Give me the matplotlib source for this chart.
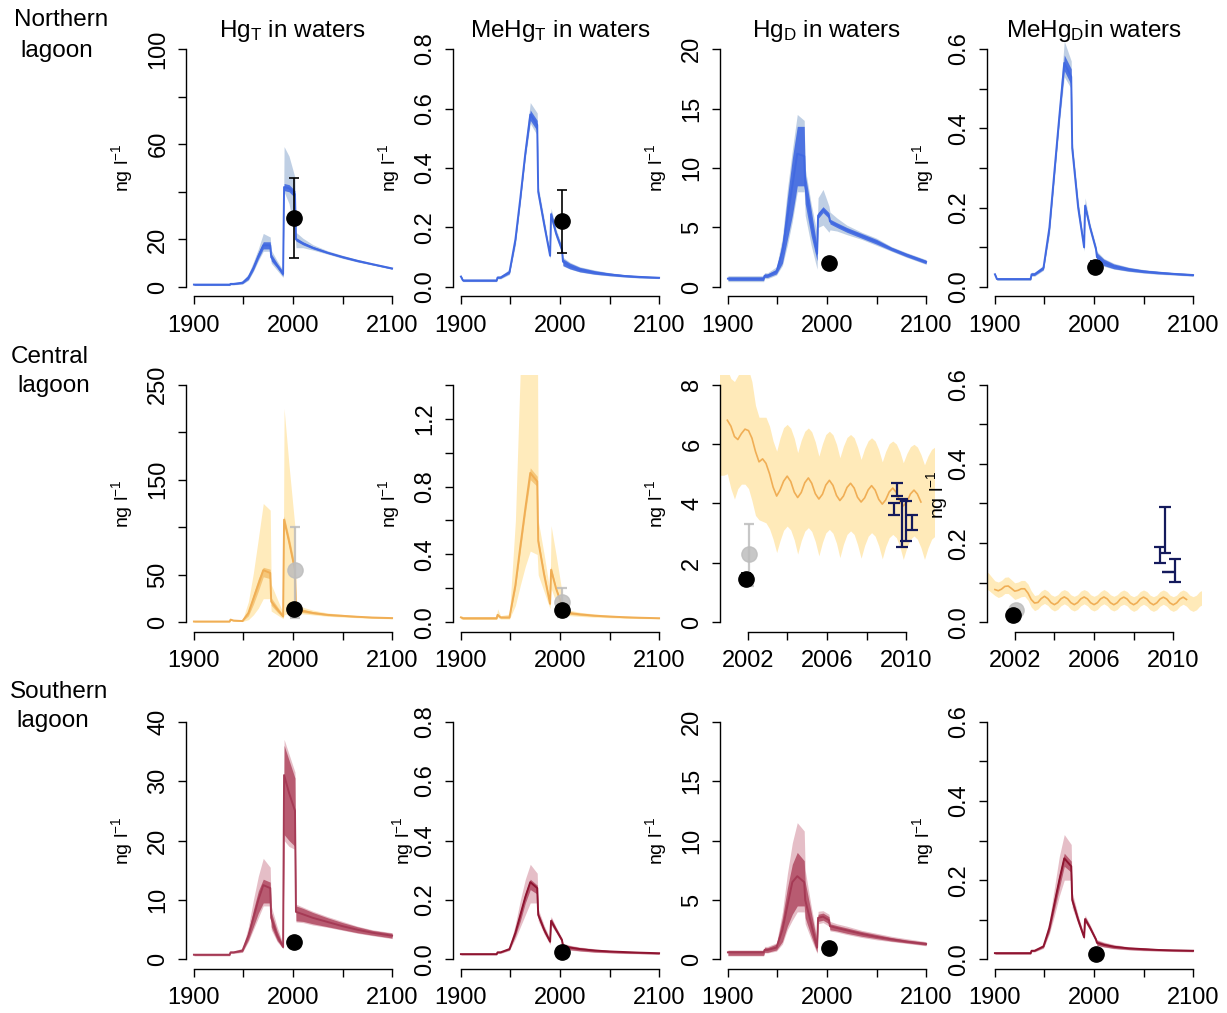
import numpy as np
import matplotlib
matplotlib.use("Agg")
import matplotlib.pyplot as plt

plt.rcParams['font.family'] = ['Liberation Sans', 'DejaVu Sans']
plt.rcParams['mathtext.fontset'] = 'custom'
plt.rcParams['mathtext.rm'] = 'Liberation Sans'
plt.rcParams['mathtext.it'] = 'Liberation Sans:italic'

# ---------------- data ----------------
YR = [1900, 1902, 1936, 1937, 1940, 1949, 1955, 1960, 1965, 1970, 1977, 1978, 1984,
      1990, 1991, 1996, 2002, 2003, 2010, 2020, 2035, 2050, 2065, 2080, 2100]

# northern lagoon
N_HGT_MED = [1.0, 1.0, 1.0, 1.3, 1.3, 1.8, 4.0, 8.0, 13.0, 17.5, 17.5, 12.5, 9.0, 5.5, 42.0, 41.5, 39.0, 20.0, 18.3, 16.5, 14.4, 12.6, 11.0, 9.6, 7.8]
N_HGT_IN_LO = [0.7, 0.7, 0.7, 1.0, 1.0, 1.4, 3.2, 7.0, 11.8, 16.0, 16.0, 11.0, 8.0, 4.5, 40.5, 40.0, 37.5, 19.3, 17.7, 16.0, 14.0, 12.2, 10.6, 9.3, 7.5]
N_HGT_IN_HI = [1.3, 1.3, 1.3, 1.6, 1.6, 2.2, 4.8, 9.2, 14.5, 19.0, 19.0, 14.0, 10.0, 6.5, 43.5, 43.0, 40.5, 20.8, 19.0, 17.0, 14.8, 13.0, 11.4, 9.9, 8.1]
N_HGT_OUT_LO = [0.6, 0.6, 0.6, 0.9, 0.9, 1.2, 2.8, 6.5, 11.0, 15.0, 15.0, 10.0, 7.0, 4.0, 40.0, 35.0, 22.0, 16.5, 16.5, 15.5, 13.8, 12.0, 10.5, 9.2, 7.4]
N_HGT_OUT_HI = [1.4, 1.4, 1.4, 1.7, 1.7, 2.5, 5.5, 10.5, 16.0, 22.5, 21.0, 15.5, 11.0, 7.0, 59.0, 55.0, 46.0, 23.0, 20.5, 17.8, 15.2, 13.3, 11.6, 10.1, 8.3]

N_MEHGT_MED = [0.035, 0.022, 0.022, 0.032, 0.032, 0.05, 0.16, 0.30, 0.45, 0.58, 0.545, 0.32, 0.21, 0.105, 0.245, 0.18, 0.125, 0.085, 0.07, 0.058, 0.048, 0.042, 0.037, 0.034, 0.031]
N_MEHGT_IN_LO = [0.03, 0.019, 0.019, 0.029, 0.029, 0.045, 0.15, 0.29, 0.44, 0.56, 0.525, 0.31, 0.20, 0.10, 0.235, 0.172, 0.118, 0.072, 0.061, 0.051, 0.043, 0.038, 0.034, 0.031, 0.029]
N_MEHGT_IN_HI = [0.04, 0.025, 0.025, 0.035, 0.035, 0.055, 0.17, 0.31, 0.46, 0.595, 0.56, 0.33, 0.22, 0.11, 0.255, 0.188, 0.132, 0.095, 0.08, 0.066, 0.055, 0.047, 0.041, 0.037, 0.034]
N_MEHGT_OUT_LO = [0.028, 0.018, 0.018, 0.027, 0.027, 0.042, 0.14, 0.28, 0.43, 0.55, 0.51, 0.30, 0.19, 0.095, 0.225, 0.165, 0.112, 0.07, 0.06, 0.05, 0.042, 0.037, 0.033, 0.030, 0.028]
N_MEHGT_OUT_HI = [0.042, 0.026, 0.026, 0.037, 0.037, 0.06, 0.18, 0.32, 0.48, 0.62, 0.585, 0.34, 0.23, 0.115, 0.265, 0.195, 0.14, 0.1, 0.083, 0.068, 0.057, 0.048, 0.042, 0.038, 0.035]

N_HGD_MED = [0.7, 0.7, 0.7, 0.95, 0.95, 1.3, 3.0, 5.8, 8.5, 11.2, 11.0, 8.5, 5.5, 2.8, 6.0, 6.5, 6.0, 5.5, 5.2, 4.8, 4.3, 3.8, 3.2, 2.7, 2.1]
N_HGD_IN_LO = [0.55, 0.55, 0.55, 0.8, 0.8, 1.1, 2.0, 4.0, 6.0, 8.5, 8.5, 7.0, 4.3, 2.2, 5.75, 6.25, 5.75, 5.3, 5.0, 4.6, 4.1, 3.6, 3.05, 2.55, 1.95]
N_HGD_IN_HI = [0.85, 0.85, 0.85, 1.1, 1.1, 1.5, 3.8, 7.5, 10.8, 13.5, 13.5, 9.5, 6.5, 3.4, 6.25, 6.75, 6.25, 5.7, 5.4, 5.0, 4.5, 4.0, 3.35, 2.85, 2.25]
N_HGD_OUT_LO = [0.45, 0.45, 0.45, 0.7, 0.7, 1.0, 1.8, 3.5, 5.5, 8.0, 8.0, 6.0, 3.5, 1.5, 5.0, 5.2, 4.6, 4.8, 4.7, 4.4, 4.0, 3.5, 3.0, 2.5, 1.9]
N_HGD_OUT_HI = [0.95, 0.95, 0.95, 1.2, 1.2, 1.7, 4.2, 8.2, 11.5, 14.5, 14.0, 10.0, 7.0, 4.5, 7.5, 8.2, 6.8, 6.3, 5.8, 5.2, 4.6, 4.1, 3.4, 2.9, 2.3]

N_MEHGD_MED = [0.032, 0.02, 0.02, 0.032, 0.032, 0.048, 0.15, 0.29, 0.43, 0.565, 0.53, 0.35, 0.20, 0.10, 0.205, 0.15, 0.095, 0.075, 0.062, 0.052, 0.044, 0.039, 0.036, 0.033, 0.030]
N_MEHGD_IN_LO = [0.029, 0.018, 0.018, 0.029, 0.029, 0.044, 0.14, 0.28, 0.42, 0.545, 0.51, 0.34, 0.19, 0.095, 0.198, 0.145, 0.09, 0.065, 0.054, 0.046, 0.04, 0.036, 0.033, 0.031, 0.028]
N_MEHGD_IN_HI = [0.035, 0.022, 0.022, 0.035, 0.035, 0.052, 0.16, 0.30, 0.44, 0.585, 0.55, 0.36, 0.21, 0.105, 0.212, 0.155, 0.1, 0.086, 0.07, 0.058, 0.049, 0.043, 0.039, 0.036, 0.033]
N_MEHGD_OUT_LO = [0.027, 0.017, 0.017, 0.027, 0.027, 0.042, 0.13, 0.27, 0.41, 0.53, 0.50, 0.33, 0.18, 0.09, 0.19, 0.14, 0.088, 0.063, 0.052, 0.045, 0.039, 0.035, 0.032, 0.030, 0.027]
N_MEHGD_OUT_HI = [0.037, 0.023, 0.023, 0.037, 0.037, 0.055, 0.17, 0.32, 0.46, 0.62, 0.57, 0.37, 0.22, 0.11, 0.225, 0.16, 0.105, 0.09, 0.072, 0.06, 0.05, 0.044, 0.04, 0.037, 0.034]

# central lagoon
C_HGT_MED = [1, 1, 1, 3, 2, 1.5, 10, 25, 40, 55, 52, 22, 14, 6.5, 108, 85, 55, 14, 12, 10, 8, 7, 6, 5.2, 4.6]
C_HGT_IN_LO = [0.7, 0.7, 0.7, 2.5, 1.6, 1.2, 7, 19, 33, 48, 46, 18, 11, 5, 104, 80, 50, 12, 10.5, 9, 7.2, 6.3, 5.4, 4.7, 4.1]
C_HGT_IN_HI = [1.3, 1.3, 1.3, 3.5, 2.4, 1.8, 13, 30, 46, 58, 56, 26, 17, 8, 112, 90, 60, 17, 14, 11.5, 9, 7.8, 6.6, 5.7, 5.0]
C_HGT_OUT_LO = [0.5, 0.5, 0.5, 2, 1.2, 1, 3, 8, 15, 25, 25, 12, 8, 4, 8, 10, 12, 10, 9, 8, 6.5, 5.7, 5, 4.4, 3.8]
C_HGT_OUT_HI = [1.5, 1.5, 1.5, 4, 3, 2.5, 22, 52, 88, 125, 118, 40, 25, 10, 225, 165, 100, 20, 16, 13, 10, 8.5, 7.2, 6.2, 5.4]

C_MEHGT_MED = [0.03, 0.025, 0.025, 0.045, 0.03, 0.03, 0.22, 0.45, 0.67, 0.88, 0.83, 0.48, 0.28, 0.11, 0.31, 0.2, 0.1, 0.065, 0.055, 0.048, 0.04, 0.035, 0.031, 0.028, 0.025]
C_MEHGT_IN_LO = [0.025, 0.02, 0.02, 0.04, 0.025, 0.025, 0.2, 0.42, 0.64, 0.84, 0.80, 0.45, 0.26, 0.10, 0.29, 0.19, 0.093, 0.055, 0.048, 0.042, 0.036, 0.032, 0.028, 0.026, 0.023]
C_MEHGT_IN_HI = [0.035, 0.03, 0.03, 0.05, 0.035, 0.035, 0.24, 0.48, 0.70, 0.91, 0.86, 0.5, 0.3, 0.12, 0.33, 0.21, 0.107, 0.072, 0.062, 0.053, 0.044, 0.038, 0.034, 0.03, 0.027]
C_MEHGT_OUT_LO = [0.02, 0.018, 0.018, 0.03, 0.02, 0.02, 0.1, 0.22, 0.33, 0.42, 0.40, 0.28, 0.18, 0.08, 0.2, 0.12, 0.05, 0.045, 0.04, 0.036, 0.031, 0.028, 0.025, 0.023, 0.021]
C_MEHGT_OUT_HI = [0.04, 0.035, 0.035, 0.08, 0.04, 0.05, 0.6, 1.5, 2.0, 2.0, 2.0, 0.6, 0.4, 0.18, 0.57, 0.4, 0.18, 0.085, 0.072, 0.06, 0.05, 0.043, 0.038, 0.033, 0.03]

# central lagoon, 2001-2011 seasonal runs (HgD)
C_HGD_T = [2000.44, 2000.61, 2000.79, 2000.97, 2001.15, 2001.33, 2001.50, 2001.68, 2001.86, 2002.04,
           2002.21, 2002.39, 2002.57, 2002.75, 2002.92, 2003.10, 2003.28, 2003.46, 2003.63, 2003.81,
           2003.99, 2004.17, 2004.35, 2004.52, 2004.70, 2004.88, 2005.06, 2005.23, 2005.41, 2005.59,
           2005.77, 2005.94, 2006.12, 2006.30, 2006.48, 2006.65, 2006.83, 2007.01, 2007.19, 2007.37,
           2007.54, 2007.72, 2007.90, 2008.08, 2008.25, 2008.43, 2008.61, 2008.79, 2008.96, 2009.14,
           2009.32, 2009.50, 2009.68, 2009.85, 2010.03, 2010.21, 2010.39, 2010.56, 2010.74, 2010.92,
           2011.10, 2011.28, 2011.45]
C_HGD_MED = [None, None, None, 6.8, 6.6, 6.25, 6.15, 6.35, 6.5, 6.45,
             6.2, 5.75, 5.4, 5.5, 5.35, 5.0, 4.55, 4.25, 4.45, 4.75,
             4.92, 4.74, 4.38, 4.2, 4.37, 4.70, 4.86, 4.68, 4.33, 4.15,
             4.31, 4.62, 4.78, 4.61, 4.27, 4.10, 4.25, 4.54, 4.68, 4.52,
             4.21, 4.05, 4.19, 4.46, 4.6, 4.45, 4.14, 3.98, 4.12, 4.39,
             4.52, 4.37, 4.07, 3.92, 4.05, 4.32, 4.45, 4.32, 4.05, None,
             None, None, None]
C_HGD_HI = [8.6, 8.6, 8.6, 8.5, 8.2, 8.1, 8.3, 8.5, 8.6, 8.5,
            8.1, 7.3, 6.9, 6.9, 6.9, 6.6, 6.1, 5.76, 6.2, 6.55,
            6.66, 6.53, 6.19, 5.71, 6.13, 6.43, 6.54, 6.41, 6.07, 5.59,
            6.01, 6.32, 6.43, 6.31, 5.99, 5.54, 5.93, 6.22, 6.32, 6.21,
            5.90, 5.48, 5.85, 6.11, 6.21, 6.10, 5.81, 5.40, 5.75, 6.01,
            6.10, 6.0, 5.74, 5.37, 5.68, 5.91, 5.99, 5.90, 5.65, 5.30,
            5.6, 5.82, 5.9]
C_HGD_LO = [4.95, 4.95, 4.95, 5.0, 4.5, 4.15, 4.5, 4.65, 4.65, 4.5,
            4.1, 3.6, 3.45, 3.4, 3.35, 3.15, 2.8, 2.35, 2.75, 3.1,
            3.24, 3.11, 2.77, 2.30, 2.75, 3.07, 3.19, 3.06, 2.72, 2.24,
            2.69, 3.01, 3.13, 3.0, 2.66, 2.18, 2.63, 2.96, 3.08, 2.96,
            2.62, 2.16, 2.59, 2.90, 3.02, 2.90, 2.58, 2.14, 2.55, 2.85,
            2.96, 2.85, 2.54, 2.12, 2.52, 2.80, 2.91, 2.80, 2.52, 2.12,
            2.51, 2.80, 2.9]

# central lagoon, 2001-2011 seasonal runs (MeHgD)
C_MEHGD_T = [2000.50, 2000.67, 2000.83,
             2001.00, 2001.17, 2001.33, 2001.50, 2001.67, 2001.83,
             2002.00, 2002.17, 2002.33, 2002.50, 2002.67, 2002.83,
             2003.00, 2003.17, 2003.33, 2003.50, 2003.67, 2003.83,
             2004.00, 2004.17, 2004.33, 2004.50, 2004.67, 2004.83,
             2005.00, 2005.17, 2005.33, 2005.50, 2005.67, 2005.83,
             2006.00, 2006.17, 2006.33, 2006.50, 2006.67, 2006.83,
             2007.00, 2007.17, 2007.33, 2007.50, 2007.67, 2007.83,
             2008.00, 2008.17, 2008.33, 2008.50, 2008.67, 2008.83,
             2009.00, 2009.17, 2009.33, 2009.50, 2009.67, 2009.83,
             2010.00, 2010.17, 2010.33, 2010.50, 2010.67, 2010.83,
             2011.00, 2011.17, 2011.33, 2011.50]
C_MEHGD_MED = [None, None, None,
               0.083, 0.080, 0.084, 0.091, 0.092, 0.086,
               0.079, 0.081, 0.085, 0.085, 0.074, 0.058,
               0.049, 0.0505, 0.060, 0.066, 0.060, 0.050,
               0.045, 0.050, 0.0596, 0.0645, 0.0596, 0.050,
               0.045, 0.050, 0.0594, 0.0643, 0.0594, 0.0498,
               0.045, 0.0498, 0.0594, 0.0643, 0.0594, 0.0498,
               0.0448, 0.0497, 0.0592, 0.064, 0.0592, 0.0497,
               0.0448, 0.0497, 0.0592, 0.064, 0.0592, 0.0497,
               0.0446, 0.0495, 0.059, 0.0638, 0.059, 0.0495,
               0.0446, 0.0495, 0.059, 0.0638, 0.058, None,
               None, None, None, None]
C_MEHGD_HI = [0.13, 0.125, 0.115,
              0.105, 0.102, 0.106, 0.114, 0.115, 0.108,
              0.100, 0.102, 0.106, 0.106, 0.097, 0.080,
              0.068, 0.070, 0.079, 0.084, 0.079, 0.070,
              0.066, 0.070, 0.079, 0.083, 0.079, 0.070,
              0.066, 0.070, 0.079, 0.083, 0.079, 0.070,
              0.066, 0.070, 0.078, 0.083, 0.078, 0.070,
              0.066, 0.070, 0.078, 0.082, 0.078, 0.069,
              0.065, 0.069, 0.078, 0.082, 0.078, 0.069,
              0.065, 0.069, 0.078, 0.082, 0.078, 0.069,
              0.065, 0.069, 0.078, 0.082, 0.078, 0.069,
              0.065, 0.069, 0.078, 0.082]
C_MEHGD_LO = [0.085, 0.082, 0.075,
              0.068, 0.063, 0.066, 0.073, 0.073, 0.066,
              0.058, 0.061, 0.065, 0.066, 0.056, 0.039,
              0.030, 0.034, 0.043, 0.048, 0.043, 0.034,
              0.029, 0.033, 0.042, 0.047, 0.042, 0.033,
              0.029, 0.033, 0.042, 0.047, 0.042, 0.033,
              0.029, 0.033, 0.042, 0.047, 0.042, 0.033,
              0.029, 0.033, 0.042, 0.046, 0.042, 0.033,
              0.028, 0.032, 0.041, 0.046, 0.041, 0.032,
              0.028, 0.032, 0.041, 0.046, 0.041, 0.032,
              0.028, 0.032, 0.041, 0.046, 0.041, 0.032,
              0.028, 0.032, 0.041, 0.046]

# recent campaign ranges (navy bars): x, low, high
C_HGD_BAR_X = [2009.37, 2009.55, 2009.8, 2010.0, 2010.3]
C_HGD_BAR_LO = [3.61, 4.25, 2.55, 2.75, 3.1]
C_HGD_BAR_HI = [4.0, 4.7, 4.15, 4.1, 3.6]
C_MEHGD_BAR_X = [2009.33, 2009.58, 2009.75, 2010.08]
C_MEHGD_BAR_LO = [0.15, 0.175, 0.127, 0.102]
C_MEHGD_BAR_HI = [0.19, 0.292, 0.127, 0.16]

# southern lagoon
S_HGT_MED = [0.8, 0.8, 0.8, 1.2, 1.2, 1.5, 4.0, 7.0, 10.0, 12.5, 12.0, 7.0, 4.0, 2.1, 31.0, 28.0, 25.0, 8.0, 7.6, 7.0, 6.3, 5.6, 5.0, 4.5, 4.0]
S_HGT_IN_LO = [0.7, 0.7, 0.7, 1.1, 1.1, 1.3, 3.3, 5.5, 7.8, 9.5, 9.5, 5.5, 3.2, 1.9, 21.0, 20.0, 19.0, 6.5, 6.4, 6.0, 5.5, 5.0, 4.5, 4.1, 3.6]
S_HGT_IN_HI = [0.9, 0.9, 0.9, 1.3, 1.3, 1.7, 4.7, 8.3, 11.5, 13.5, 13.0, 8.0, 4.8, 2.4, 36.0, 33.5, 30.5, 9.0, 8.6, 7.9, 7.0, 6.2, 5.5, 4.9, 4.4]
S_HGT_OUT_LO = [0.6, 0.6, 0.6, 1.0, 1.0, 1.2, 3.0, 5.0, 7.0, 9.0, 9.0, 5.0, 3.0, 1.8, 20.0, 19.0, 18.5, 6.3, 6.2, 5.8, 5.4, 4.9, 4.4, 4.0, 3.5]
S_HGT_OUT_HI = [1.0, 1.0, 1.0, 1.4, 1.4, 1.9, 5.5, 10.0, 14.0, 17.0, 15.5, 9.0, 5.5, 2.6, 37.0, 34.5, 31.5, 9.3, 8.8, 8.1, 7.2, 6.4, 5.6, 5.0, 4.5]

S_MEHGT_MED = [0.018, 0.018, 0.018, 0.024, 0.024, 0.035, 0.09, 0.15, 0.21, 0.26, 0.24, 0.15, 0.1, 0.06, 0.13, 0.1, 0.065, 0.045, 0.04, 0.035, 0.03, 0.027, 0.025, 0.023, 0.021]
S_MEHGT_IN_LO = [0.016, 0.016, 0.016, 0.022, 0.022, 0.032, 0.08, 0.13, 0.19, 0.235, 0.22, 0.14, 0.09, 0.055, 0.12, 0.093, 0.06, 0.036, 0.033, 0.029, 0.025, 0.023, 0.021, 0.02, 0.018]
S_MEHGT_IN_HI = [0.02, 0.02, 0.02, 0.026, 0.026, 0.038, 0.1, 0.165, 0.225, 0.27, 0.25, 0.16, 0.108, 0.065, 0.14, 0.107, 0.07, 0.052, 0.046, 0.04, 0.034, 0.03, 0.027, 0.025, 0.023]
S_MEHGT_OUT_LO = [0.015, 0.015, 0.015, 0.02, 0.02, 0.03, 0.07, 0.11, 0.15, 0.19, 0.19, 0.13, 0.085, 0.05, 0.115, 0.09, 0.057, 0.034, 0.031, 0.028, 0.024, 0.022, 0.02, 0.019, 0.017]
S_MEHGT_OUT_HI = [0.021, 0.021, 0.021, 0.028, 0.028, 0.04, 0.12, 0.2, 0.27, 0.32, 0.29, 0.17, 0.115, 0.07, 0.145, 0.11, 0.073, 0.055, 0.048, 0.042, 0.036, 0.031, 0.028, 0.026, 0.024]

S_HGD_MED = [0.6, 0.6, 0.6, 0.8, 0.8, 1.0, 2.5, 4.5, 6.5, 7.0, 6.5, 5.0, 3.0, 1.0, 3.5, 3.6, 3.3, 2.8, 2.65, 2.45, 2.15, 1.9, 1.7, 1.5, 1.3]
S_HGD_IN_LO = [0.35, 0.35, 0.35, 0.6, 0.6, 0.8, 1.5, 2.8, 3.8, 4.5, 4.5, 3.5, 2.0, 0.6, 3.2, 3.3, 3.0, 2.5, 2.4, 2.2, 1.95, 1.75, 1.55, 1.4, 1.2]
S_HGD_IN_HI = [0.75, 0.75, 0.75, 1.0, 1.0, 1.3, 3.5, 6.0, 8.0, 9.0, 8.3, 6.5, 4.0, 1.5, 3.8, 3.9, 3.6, 3.0, 2.85, 2.65, 2.35, 2.1, 1.85, 1.65, 1.45]
S_HGD_OUT_LO = [0.3, 0.3, 0.3, 0.55, 0.55, 0.7, 1.3, 2.5, 3.3, 4.0, 4.0, 3.0, 1.7, 0.5, 3.0, 3.1, 2.8, 2.4, 2.3, 2.1, 1.85, 1.65, 1.5, 1.35, 1.15]
S_HGD_OUT_HI = [0.8, 0.8, 0.8, 1.1, 1.1, 1.4, 4.0, 7.2, 9.8, 11.5, 10.8, 7.5, 4.5, 1.8, 4.05, 4.1, 3.8, 3.2, 3.0, 2.8, 2.45, 2.2, 1.95, 1.75, 1.5]

S_MEHGD_MED = [0.016, 0.016, 0.016, 0.022, 0.022, 0.033, 0.08, 0.14, 0.2, 0.255, 0.235, 0.15, 0.1, 0.056, 0.102, 0.08, 0.05, 0.042, 0.037, 0.032, 0.028, 0.026, 0.024, 0.023, 0.022]
S_MEHGD_IN_LO = [0.014, 0.014, 0.014, 0.02, 0.02, 0.03, 0.07, 0.125, 0.18, 0.235, 0.22, 0.14, 0.092, 0.052, 0.096, 0.075, 0.046, 0.036, 0.032, 0.028, 0.025, 0.023, 0.022, 0.021, 0.02]
S_MEHGD_IN_HI = [0.018, 0.018, 0.018, 0.024, 0.024, 0.036, 0.09, 0.155, 0.215, 0.268, 0.248, 0.16, 0.107, 0.06, 0.108, 0.085, 0.054, 0.048, 0.042, 0.036, 0.031, 0.029, 0.026, 0.025, 0.024]
S_MEHGD_OUT_LO = [0.013, 0.013, 0.013, 0.019, 0.019, 0.028, 0.065, 0.11, 0.16, 0.2, 0.2, 0.13, 0.088, 0.05, 0.093, 0.073, 0.045, 0.035, 0.031, 0.027, 0.024, 0.022, 0.021, 0.02, 0.019]
S_MEHGD_OUT_HI = [0.019, 0.019, 0.019, 0.025, 0.025, 0.038, 0.1, 0.18, 0.26, 0.315, 0.29, 0.17, 0.112, 0.063, 0.112, 0.088, 0.056, 0.05, 0.044, 0.038, 0.032, 0.03, 0.027, 0.026, 0.025]

# observations: (x, y, low, high)
OBS_BLACK = {
    'N_HGT': (2001.3, 28.9, 12.1, 45.7), 'N_MEHGT': (2002.5, 0.222, 0.113, 0.326),
    'N_HGD': (2002.5, 2.05, 2.05, 2.05), 'N_MEHGD': (2001.5, 0.051, 0.035, 0.065),
    'C_HGT': (2001.5, 14, 11, 17), 'C_MEHGT': (2001.8, 0.075, 0.06, 0.09),
    'C_HGD': (2001.9, 1.45, 1.25, 1.65), 'C_MEHGD': (2001.92, 0.02, 0.02, 0.02),
    'S_HGT': (2001.5, 2.9, 2.9, 2.9), 'S_MEHGT': (2002.0, 0.026, 0.026, 0.026),
    'S_HGD': (2002.3, 1.0, 1.0, 1.0), 'S_MEHGD': (2002.0, 0.015, 0.015, 0.015),
}
OBS_GREY = {
    'C_HGT': (2002.0, 55, 5, 100), 'C_MEHGT': (2001.8, 0.118, 0.03, 0.2),
    'C_HGD': (2002.07, 2.29, 1.23, 3.3), 'C_MEHGD': (2002.08, 0.031, 0.031, 0.031),
}

# ---------------- style ----------------
BLUE = dict(line='#4169E1', inner='#4169E1', outer='#B0C4DE', ia=0.9, oa=0.8)
ORANGE = dict(line='#F0AE55', inner='#F3BE6A', outer='#FFE9B5', ia=0.8, oa=0.9)
RED = dict(line='#8E1430', inner='#B04A62', outer='#DDA9B5', ia=0.85, oa=0.75)
RED_SOFT = dict(line='#A53A55', inner='#B04A62', outer='#DDA9B5', ia=0.85, oa=0.75)
NAVY = '#141A5C'

W, H = 1227, 1013
fig = plt.figure(figsize=(W / 100, H / 100), dpi=100)

COL_LEFT = [186, 453, 720, 987]
ROW_TOP = [39.5, 375, 712]
AX_W, AX_H = 214, 257
FS = 17


def make_ax(r, c):
    l = COL_LEFT[c]
    t = ROW_TOP[r]
    return fig.add_axes([l / W, 1 - (t + AX_H) / H, AX_W / W, AX_H / H])


def style(ax, yticks, ylabels, xticks=(1900, 1950, 2000, 2050, 2100),
          xlabels=('1900', '', '2000', '', '2100'), xr=(1900, 2100)):
    px = 0.04 * (xr[1] - xr[0])
    py = 0.04 * (yticks[-1] - yticks[0])
    ax.set_xlim(xr[0] - px, xr[1] + px)
    ax.set_ylim(yticks[0] - py, yticks[-1] + py)
    ax.spines['top'].set_visible(False)
    ax.spines['right'].set_visible(False)
    ax.spines['left'].set_bounds(yticks[0], yticks[-1])
    ax.spines['bottom'].set_bounds(xticks[0], xticks[-1])
    for s in ('left', 'bottom'):
        ax.spines[s].set_linewidth(1.0)
    ax.set_yticks(yticks)
    ax.set_yticklabels(ylabels, rotation=90, va='center')
    ax.set_xticks(xticks)
    ax.set_xticklabels(xlabels)
    ax.tick_params(axis='both', direction='out', length=6, width=1.0, labelsize=FS)
    ax.tick_params(axis='y', pad=6)
    ax.tick_params(axis='x', pad=7)
    ax.patch.set_alpha(0)


def draw_century(ax, med, ilo, ihi, olo, ohi, col):
    ax.fill_between(YR, olo, ohi, color=col['outer'], alpha=col['oa'], lw=0, zorder=1)
    ax.fill_between(YR, ilo, ihi, color=col['inner'], alpha=col['ia'], lw=0, zorder=2)
    ax.plot(YR, med, color=col['line'], lw=1.4, zorder=3)


def draw_seasonal(ax, t, med, lo, hi, bx, blo, bhi):
    t = np.array(t, dtype=float)
    ax.fill_between(t, lo, hi, color=ORANGE['outer'], alpha=0.95, lw=0, zorder=1)
    ax.plot(t, np.array(med, dtype=float), color=ORANGE['line'], lw=1.2, zorder=3)
    for x, l, h in zip(bx, blo, bhi):
        ax.errorbar([x], [l], yerr=[[0], [h - l]], fmt='none', ecolor=NAVY, elinewidth=1.6,
                    capsize=4, capthick=1.6, zorder=5)


def draw_obs(ax, key):
    if key in OBS_GREY:
        x, y, lo, hi = OBS_GREY[key]
        ax.errorbar([x], [y], yerr=[[y - lo], [hi - y]], fmt='o', ms=11, color='#BDBDBD',
                    ecolor='#BDBDBD', elinewidth=1.6, capsize=3.5, capthick=1.6, alpha=0.85, zorder=4)
    x, y, lo, hi = OBS_BLACK[key]
    ax.errorbar([x], [y], yerr=[[y - lo], [hi - y]], fmt='o', ms=11, color='black',
                ecolor='black', elinewidth=1.2, capsize=3.5, capthick=1.2, zorder=5)


def ylab(x, y):
    fig.text(x / W, 1 - y / H, 'ng l$^{-1}$', rotation=90, ha='center', va='center', fontsize=14)


Y_MEHGD = [0, 0.1, 0.2, 0.3, 0.4, 0.5, 0.6]
L_MEHGD = ['0.0', '', '0.2', '', '0.4', '', '0.6']
SHORT_X = (2002, 2004, 2006, 2008, 2010)
SHORT_L = ('2002', '', '2006', '', '2010')

# ---------- row 1 : northern lagoon ----------
ax = make_ax(0, 0)
draw_century(ax, N_HGT_MED, N_HGT_IN_LO, N_HGT_IN_HI, N_HGT_OUT_LO, N_HGT_OUT_HI, BLUE)
draw_obs(ax, 'N_HGT')
style(ax, [0, 20, 40, 60, 80, 100], ['0', '20', '', '60', '', '100'])

ax = make_ax(0, 1)
draw_century(ax, N_MEHGT_MED, N_MEHGT_IN_LO, N_MEHGT_IN_HI, N_MEHGT_OUT_LO, N_MEHGT_OUT_HI, BLUE)
draw_obs(ax, 'N_MEHGT')
style(ax, [0, 0.2, 0.4, 0.6, 0.8], ['0.0', '0.2', '0.4', '0.6', '0.8'])

ax = make_ax(0, 2)
draw_century(ax, N_HGD_MED, N_HGD_IN_LO, N_HGD_IN_HI, N_HGD_OUT_LO, N_HGD_OUT_HI, BLUE)
draw_obs(ax, 'N_HGD')
style(ax, [0, 5, 10, 15, 20], ['0', '5', '10', '15', '20'])

ax = make_ax(0, 3)
draw_century(ax, N_MEHGD_MED, N_MEHGD_IN_LO, N_MEHGD_IN_HI, N_MEHGD_OUT_LO, N_MEHGD_OUT_HI, BLUE)
draw_obs(ax, 'N_MEHGD')
style(ax, Y_MEHGD, L_MEHGD)

# ---------- row 2 : central lagoon ----------
ax = make_ax(1, 0)
draw_century(ax, C_HGT_MED, C_HGT_IN_LO, C_HGT_IN_HI, C_HGT_OUT_LO, C_HGT_OUT_HI, ORANGE)
draw_obs(ax, 'C_HGT')
style(ax, [0, 50, 100, 150, 200, 250], ['0', '50', '', '150', '', '250'])

ax = make_ax(1, 1)
draw_century(ax, C_MEHGT_MED, C_MEHGT_IN_LO, C_MEHGT_IN_HI, C_MEHGT_OUT_LO, C_MEHGT_OUT_HI, ORANGE)
draw_obs(ax, 'C_MEHGT')
style(ax, [0, 0.2, 0.4, 0.6, 0.8, 1.0, 1.2, 1.4], ['0.0', '', '0.4', '', '0.8', '', '1.2', ''])

ax = make_ax(1, 2)
draw_seasonal(ax, C_HGD_T, C_HGD_MED, C_HGD_LO, C_HGD_HI, C_HGD_BAR_X, C_HGD_BAR_LO, C_HGD_BAR_HI)
draw_obs(ax, 'C_HGD')
style(ax, [0, 2, 4, 6, 8], ['0', '2', '4', '6', '8'], SHORT_X, SHORT_L, (2001, 2011))

ax = make_ax(1, 3)
draw_seasonal(ax, C_MEHGD_T, C_MEHGD_MED, C_MEHGD_LO, C_MEHGD_HI,
              C_MEHGD_BAR_X, C_MEHGD_BAR_LO, C_MEHGD_BAR_HI)
draw_obs(ax, 'C_MEHGD')
style(ax, Y_MEHGD, L_MEHGD, SHORT_X, SHORT_L, (2001, 2011))

# ---------- row 3 : southern lagoon ----------
ax = make_ax(2, 0)
draw_century(ax, S_HGT_MED, S_HGT_IN_LO, S_HGT_IN_HI, S_HGT_OUT_LO, S_HGT_OUT_HI, RED_SOFT)
draw_obs(ax, 'S_HGT')
style(ax, [0, 10, 20, 30, 40], ['0', '10', '20', '30', '40'])

ax = make_ax(2, 1)
draw_century(ax, S_MEHGT_MED, S_MEHGT_IN_LO, S_MEHGT_IN_HI, S_MEHGT_OUT_LO, S_MEHGT_OUT_HI, RED)
draw_obs(ax, 'S_MEHGT')
style(ax, [0, 0.2, 0.4, 0.6, 0.8], ['0.0', '0.2', '0.4', '0.6', '0.8'])

ax = make_ax(2, 2)
draw_century(ax, S_HGD_MED, S_HGD_IN_LO, S_HGD_IN_HI, S_HGD_OUT_LO, S_HGD_OUT_HI, RED_SOFT)
draw_obs(ax, 'S_HGD')
style(ax, [0, 5, 10, 15, 20], ['0', '5', '10', '15', '20'])

ax = make_ax(2, 3)
draw_century(ax, S_MEHGD_MED, S_MEHGD_IN_LO, S_MEHGD_IN_HI, S_MEHGD_OUT_LO, S_MEHGD_OUT_HI, RED)
draw_obs(ax, 'S_MEHGD')
style(ax, Y_MEHGD, L_MEHGD)

# ---------- text ----------
titles = ['Hg$_\\mathrm{T}$ in waters', 'MeHg$_\\mathrm{T}$ in waters',
          'Hg$_\\mathrm{D}$ in waters', 'MeHg$_\\mathrm{D}$in waters']
for c, t in enumerate(titles):
    fig.text((COL_LEFT[c] + AX_W / 2) / W, 1 - 36.7 / H, t, ha='center', va='baseline', fontsize=17.5)

rows = [(('Northern', 61, 26), ('lagoon', 56.5, 56.7)),
        (('Central', 49.7, 362.7), ('lagoon', 53.7, 391.7)),
        (('Southern', 58.7, 698.3), ('lagoon', 52.7, 727.3))]
for pair in rows:
    for txt, x, y in pair:
        fig.text(x / W, 1 - y / H, txt, ha='center', va='baseline', fontsize=17.5)

for r in range(3):
    yc = ROW_TOP[r] + AX_H / 2
    for c in range(4):
        x = COL_LEFT[c] - 64
        y = yc
        if (r, c) in ((1, 3), (2, 1)):
            x += 14
        if (r, c) == (1, 3):
            y = 495
        ylab(x, y)

fig.savefig('out.png', dpi=100)
